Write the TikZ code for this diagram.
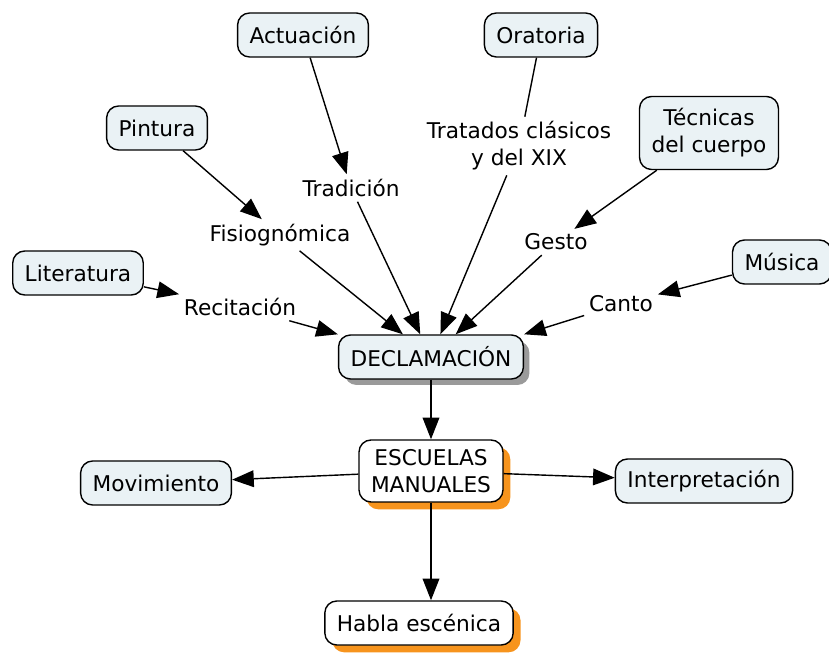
\documentclass[tikz,border=0pt]{standalone}
\usepackage{fontspec}
\setmainfont{DejaVu Sans}
\usetikzlibrary{arrows.meta, shadows}
\definecolor{conceptfill}{HTML}{EAF2F5}
\definecolor{shadowgray}{HTML}{9A9A9A}
\definecolor{shadoworange}{HTML}{F7941D}

\begin{document}
\begin{tikzpicture}[
    font=\fontsize{18.5}{23}\selectfont,
    concept/.style={draw, line width=1.2pt, rounded corners=0.36cm, fill=conceptfill,
      align=center, inner xsep=0.36cm, minimum height=1.32cm},
    twoline/.style={minimum height=#1},
    grayshadow/.style={drop shadow={shadow xshift=0.18cm, shadow yshift=-0.18cm,
      fill=shadowgray, opacity=1}},
    orangeshadow/.style={drop shadow={shadow xshift=0.22cm, shadow yshift=-0.22cm,
      fill=shadoworange, opacity=1}},
    linkword/.style={align=center, inner sep=4pt},
    link/.style={line width=1.2pt},
    arrowlink/.style={link, -{Triangle[length=6.5mm, width=5mm]}}
  ]
  \useasboundingbox (0,0) rectangle (24.87,19.56);
  % Source concepts
  \node[concept] (actuacion) at (9.09,18.51) {Actuación};
  \node[concept] (oratoria) at (16.23,18.51) {Oratoria};
  \node[concept] (pintura) at (4.71,15.72) {Pintura};
  \node[concept, twoline=2.19cm] (tecnicas) at (21.27,15.57) {Técnicas\\del cuerpo};
  \node[concept] (literatura) at (2.34,11.37) {Literatura};
  \node[concept] (musica) at (23.46,11.70) {Música};
  % Central concepts
  \node[concept, grayshadow] (declamacion) at (12.93,8.85) {DECLAMACIÓN};
  \node[concept, twoline=1.86cm, fill=white, orangeshadow] (escuelas) at (12.93,5.43) {ESCUELAS\\MANUALES};
  % Result concepts
  \node[concept] (movimiento) at (4.68,5.07) {Movimiento};
  \node[concept] (interpretacion) at (21.12,5.13) {Interpretación};
  \node[concept, fill=white, orangeshadow] (habla) at (12.57,0.87) {Habla escénica};
  % Linking words
  \node[linkword] (tradicion) at (10.53,13.92) {Tradición};
  \node[linkword] (tratados) at (15.57,15.18) {Tratados clásicos\\y del XIX};
  \node[linkword] (fisio) at (8.40,12.51) {Fisiognómica};
  \node[linkword] (gesto) at (16.68,12.30) {Gesto};
  \node[linkword] (recitacion) at (7.20,10.35) {Recitación};
  \node[linkword] (canto) at (18.63,10.44) {Canto};
  % Sources to linking words
  \draw[arrowlink] (actuacion) -- (tradicion);
  \draw[link] (oratoria) -- (tratados);
  \draw[arrowlink] (pintura) -- (fisio);
  \draw[arrowlink] (tecnicas) -- (gesto);
  \draw[arrowlink] (literatura) -- (recitacion);
  \draw[arrowlink] (musica) -- (canto);
  % Linking words to DECLAMACION
  \draw[arrowlink] (tradicion) -- (declamacion);
  \draw[arrowlink] (tratados) -- (declamacion);
  \draw[arrowlink] (fisio) -- (declamacion);
  \draw[arrowlink] (gesto) -- (declamacion);
  \draw[arrowlink] (recitacion) -- (declamacion.north west);
  \draw[arrowlink] (canto) -- (declamacion.north east);
  % Lower part
  \draw[arrowlink] (declamacion) -- (escuelas);
  \draw[arrowlink] (escuelas) -- (movimiento);
  \draw[arrowlink] (escuelas) -- (interpretacion);
  \draw[arrowlink] (escuelas.south) -- (escuelas.south |- habla.north);
\end{tikzpicture}
\end{document}
